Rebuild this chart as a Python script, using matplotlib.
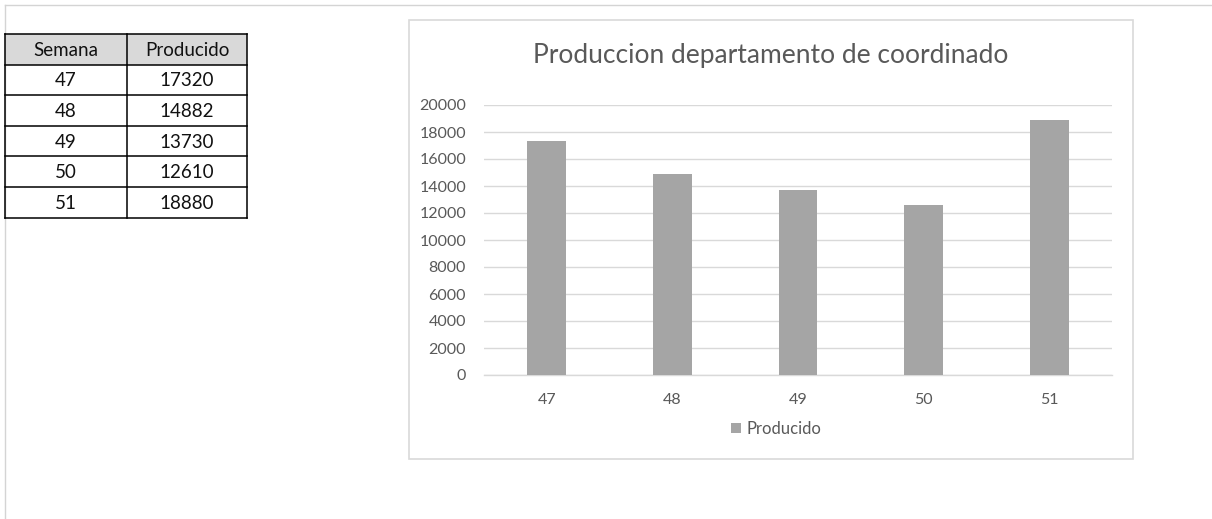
import matplotlib
matplotlib.use("Agg")
import matplotlib.pyplot as plt
from matplotlib.patches import Rectangle

# Data
semanas = ["47", "48", "49", "50", "51"]
producido = [17320, 14882, 13730, 12610, 18880]
titulo = "Produccion departamento de coordinado"
col_headers = ["Semana", "Producido"]
y_ticks = list(range(0, 20001, 2000))

plt.rcParams['font.family'] = ['Lato', 'DejaVu Sans']

W, H = 1212, 519
fig = plt.figure(figsize=(W / 100, H / 100), dpi=100)

# background axes in pixel coordinates (sheet, table, chart frame)
bg = fig.add_axes([0, 0, 1, 1])
bg.set_xlim(0, W)
bg.set_ylim(H, 0)
bg.axis('off')

bg.plot([5, W], [5, 5], color='#d4d4d4', lw=1)
bg.plot([5, 5], [5, H], color='#d4d4d4', lw=1)

# table
x0, xm, x1 = 5, 127, 247
row_h = 30.6
y_top = 34
bg.add_patch(Rectangle((x0, y_top), x1 - x0, row_h, facecolor='#d9d9d9', edgecolor='none'))
n_rows = len(semanas) + 1
for i in range(n_rows + 1):
    y = y_top + i * row_h
    bg.plot([x0, x1], [y, y], color='black', lw=1.1)
for x in (x0, xm, x1):
    bg.plot([x, x], [y_top, y_top + n_rows * row_h], color='black', lw=1.1)
tfs = 13.5
for j, h in enumerate(col_headers):
    cx = (x0 + xm) / 2 if j == 0 else (xm + x1) / 2
    bg.text(cx, y_top + row_h / 2 + 1, h, ha='center', va='center', fontsize=tfs, color='#111111')
for i, (s, p) in enumerate(zip(semanas, producido)):
    yc = y_top + (i + 1.5) * row_h + 1
    bg.text((x0 + xm) / 2, yc, s, ha='center', va='center', fontsize=tfs, color='#111111')
    bg.text((xm + x1) / 2, yc, str(p), ha='center', va='center', fontsize=tfs, color='#111111')

# chart frame
bg.add_patch(Rectangle((409, 20), 724, 439, facecolor='white', edgecolor='#d9d9d9', lw=1.2))
bg.text(771, 55, titulo, ha='center', va='center', fontsize=19, color='#595959')

# chart plot area
left, right, top, bottom = 484, 1112, 105, 375
ax = fig.add_axes([left / W, (H - bottom) / H, (right - left) / W, (bottom - top) / H])
ax.set_facecolor('none')
bars = ax.bar(semanas, producido, width=0.31, color='#a5a5a5', zorder=3, label='Producido')
ax.set_xlim(-0.5, len(semanas) - 0.5)
ax.set_ylim(0, 20000)
ax.set_yticks(y_ticks)
ax.grid(axis='y', color='#d9d9d9', lw=1, zorder=0)
for s in ['top', 'right', 'left']:
    ax.spines[s].set_visible(False)
ax.spines['bottom'].set_color('#d9d9d9')
ax.spines['bottom'].set_linewidth(1)
ax.tick_params(axis='both', length=0, colors='#595959', labelsize=11.5)
ax.tick_params(axis='y', pad=13)
ax.tick_params(axis='x', pad=13)

ax.legend(handles=[bars], loc='center', bbox_to_anchor=(776 / W, (H - 429) / H),
          bbox_transform=fig.transFigure, frameon=False, fontsize=12,
          handlelength=0.6, handleheight=0.6, handletextpad=0.3, labelcolor='#595959')

fig.savefig("out.png", dpi=100)
